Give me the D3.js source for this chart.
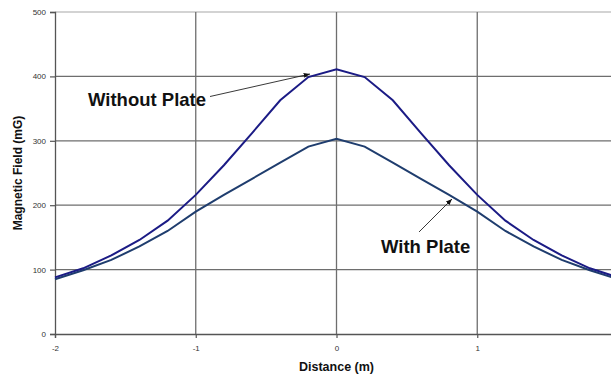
<!DOCTYPE html>
<html>
<head>
<meta charset="utf-8">
<script src="https://cdn.jsdelivr.net/npm/d3@7"></script>
<style>
  body { margin: 0; background: #fff; }
  svg { display: block; font-family: Arial, "Liberation Sans", sans-serif; }
</style>
</head>
<body>
<div id="chart"></div>
<script>
const distance = [-2, -1.8, -1.6, -1.4, -1.2, -1, -0.8, -0.6, -0.4, -0.2, 0, 0.2, 0.4, 0.6, 0.8, 1, 1.2, 1.4, 1.6, 1.8, 2];
const withoutPlate = [88, 102, 122, 146, 176, 216, 262, 312, 363, 399, 411, 399, 363, 312, 262, 216, 176, 146, 122, 102, 88];
const withPlate = [85, 99, 115, 136, 160, 190, 216, 241, 266, 291, 303, 291, 266, 241, 216, 190, 160, 136, 115, 99, 85];
const xTicks = [-2, -1, 0, 1];
const yTicks = [0, 100, 200, 300, 400, 500];

const width = 611;
const height = 374;
const margin = { top: 12, right: -7, bottom: 40, left: 55 };

const svg = d3.select('#chart').append('svg')
  .attr('width', width)
  .attr('height', height);

const x = d3.scaleLinear().domain([-2, 2]).range([margin.left, width - margin.right]);
const y = d3.scaleLinear().domain([0, 500]).range([height - margin.bottom, margin.top]);

// horizontal grid
svg.append('g')
  .selectAll('line')
  .data(yTicks.filter(d => d > 0))
  .join('line')
  .attr('x1', x(-2))
  .attr('x2', width)
  .attr('y1', d => y(d))
  .attr('y2', d => y(d))
  .attr('stroke', d => (d === 500 ? '#c4c4c4' : '#6e6e6e'))
  .attr('stroke-width', d => (d === 500 ? 1.5 : 1.3));

// vertical grid
svg.append('g')
  .selectAll('line')
  .data(xTicks.filter(d => d > -2))
  .join('line')
  .attr('x1', d => x(d))
  .attr('x2', d => x(d))
  .attr('y1', y(500))
  .attr('y2', y(0))
  .attr('stroke', '#6e6e6e')
  .attr('stroke-width', 1.3);

// axes
const fmt = d => String(d);
const yAxis = svg.append('g')
  .attr('transform', `translate(${x(-2)},0)`)
  .call(d3.axisLeft(y).tickValues(yTicks).tickFormat(fmt).tickSize(5).tickPadding(4));
const xAxis = svg.append('g')
  .attr('transform', `translate(0,${y(0)})`)
  .call(d3.axisBottom(x).tickValues(xTicks).tickFormat(fmt).tickSize(4).tickPadding(7));

[yAxis, xAxis].forEach(a => {
  a.select('.domain').attr('stroke', '#555').attr('stroke-width', 1.3);
  a.selectAll('.tick line').attr('stroke', '#555').attr('stroke-width', 1.2);
  a.selectAll('.tick text')
    .attr('font-size', 8)
    .attr('font-family', 'Arial, "Liberation Sans", sans-serif')
    .attr('fill', '#333');
});

// curves
const line = d3.line()
  .x((d, i) => x(distance[i]))
  .y(d => y(d));

svg.append('path')
  .datum(withPlate)
  .attr('fill', 'none')
  .attr('stroke', '#1f3d6e')
  .attr('stroke-width', 2)
  .attr('d', line);

svg.append('path')
  .datum(withoutPlate)
  .attr('fill', 'none')
  .attr('stroke', '#1b1b85')
  .attr('stroke-width', 2)
  .attr('d', line);

// axis titles
svg.append('text')
  .attr('x', x(0))
  .attr('y', 371)
  .attr('text-anchor', 'middle')
  .attr('font-size', 12.5)
  .attr('font-weight', 'bold')
  .attr('fill', '#111')
  .text('Distance (m)');

svg.append('text')
  .attr('transform', `translate(22,${(y(0) + y(500)) / 2}) rotate(-90)`)
  .attr('text-anchor', 'middle')
  .attr('font-size', 12)
  .attr('font-weight', 'bold')
  .attr('fill', '#111')
  .text('Magnetic Field (mG)');

// annotations
svg.append('defs').append('marker')
  .attr('id', 'arrow')
  .attr('viewBox', '0 0 10 10')
  .attr('refX', 10)
  .attr('refY', 5)
  .attr('markerWidth', 7)
  .attr('markerHeight', 7)
  .attr('orient', 'auto')
  .append('path')
  .attr('d', 'M0,1L10,5L0,9Z')
  .attr('fill', '#111');

svg.append('text')
  .attr('x', 88)
  .attr('y', 106)
  .attr('font-size', 18.5)
  .attr('font-weight', 'bold')
  .attr('fill', '#111')
  .text('Without Plate');

svg.append('line')
  .attr('x1', 210).attr('y1', 96.5)
  .attr('x2', 310).attr('y2', 74)
  .attr('stroke', '#222')
  .attr('stroke-width', 0.9)
  .attr('marker-end', 'url(#arrow)');

svg.append('text')
  .attr('x', 381)
  .attr('y', 253)
  .attr('font-size', 18.5)
  .attr('font-weight', 'bold')
  .attr('fill', '#111')
  .text('With Plate');

svg.append('line')
  .attr('x1', 419).attr('y1', 232)
  .attr('x2', 452).attr('y2', 199)
  .attr('stroke', '#222')
  .attr('stroke-width', 0.9)
  .attr('marker-end', 'url(#arrow)');
</script>
</body>
</html>
